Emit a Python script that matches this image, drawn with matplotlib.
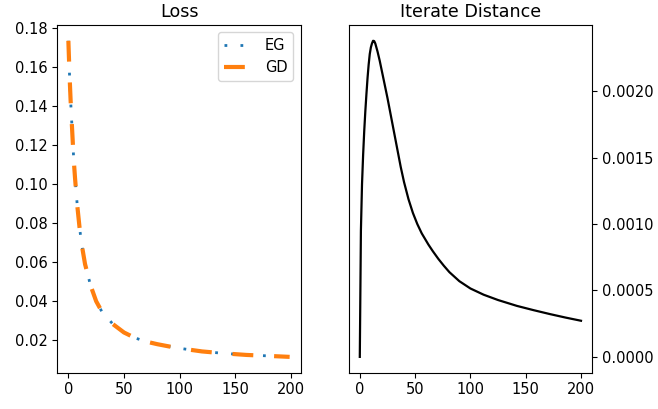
import matplotlib
matplotlib.use("Agg")
import matplotlib.pyplot as plt

# loss curves
loss_steps = [0, 1, 2, 3, 4, 5, 6, 8, 10, 12, 15, 20, 25, 30, 40, 50, 60, 70,
              80, 90, 100, 120, 140, 160, 180, 199]
eg_loss = [0.1734, 0.1565, 0.143, 0.132, 0.121, 0.111, 0.103, 0.089, 0.078,
           0.069, 0.059, 0.048, 0.040, 0.0348, 0.0283, 0.0240, 0.0212, 0.0193,
           0.0180, 0.0169, 0.0159, 0.0143, 0.0133, 0.0125, 0.0120, 0.0115]
gd_loss = [0.1734, 0.1565, 0.143, 0.132, 0.121, 0.111, 0.103, 0.089, 0.078,
           0.069, 0.059, 0.048, 0.040, 0.0348, 0.0283, 0.0240, 0.0212, 0.0193,
           0.0180, 0.0169, 0.0159, 0.0143, 0.0133, 0.0125, 0.0120, 0.0115]

# distance between iterates, right panel
dist_steps = [0, 1, 2, 3, 4, 5, 6, 7, 8, 9, 10, 11, 12, 13, 14, 15, 16, 18,
              20, 22, 25, 28, 31, 34, 37, 40, 44, 48, 52, 56, 62, 66, 71, 76,
              81, 90, 100, 112, 125, 142, 157, 172, 186, 200]
iterate_dist = [0.0, 0.00095, 0.00130, 0.00152, 0.00170, 0.00185, 0.00198,
                0.00210, 0.00220, 0.00228, 0.00233, 0.00236, 0.00238, 0.002378,
                0.00236, 0.00233, 0.00230, 0.00223, 0.00215, 0.00207, 0.00195,
                0.00182, 0.00169, 0.00156, 0.00143, 0.001316, 0.001188,
                0.001084, 0.00100, 0.00093, 0.000846, 0.000796, 0.000738,
                0.000686, 0.000638, 0.000570, 0.000515, 0.000468, 0.000428,
                0.000384, 0.000352, 0.000322, 0.000296, 0.000272]

plt.rcParams['font.size'] = 10.5

fig = plt.figure(figsize=(6.58, 4.09), dpi=100)
ax1 = fig.add_axes([0.0871, 0.0888, 0.3699, 0.8501])
ax2 = fig.add_axes([0.530, 0.0888, 0.3698, 0.8501])

ax1.plot(loss_steps, eg_loss, linestyle=(0, (1, 4.75)), lw=2, label="EG")
ax1.plot(loss_steps, gd_loss, linestyle=(0, (5, 5)), lw=3, label="GD")
ax1.set_title("Loss", fontsize=12.6)
ax1.legend(loc='upper right')

ax2.plot(dist_steps, iterate_dist, color='black', lw=1.6)
ax2.set_title("Iterate Distance", fontsize=12.6)
ax2.yaxis.tick_right()
ax2.set_yticks([0.0, 0.0005, 0.0010, 0.0015, 0.0020])
ax2.set_yticklabels(["0.0000", "0.0005", "0.0010", "0.0015", "0.0020"])

fig.savefig("out.png", dpi=100)
